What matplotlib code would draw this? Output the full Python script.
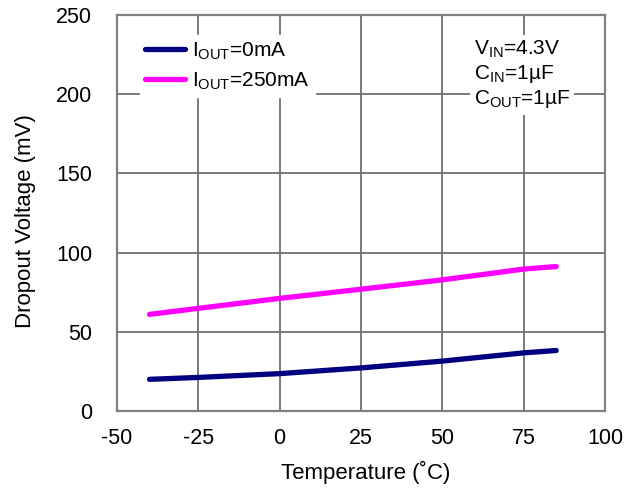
import matplotlib
matplotlib.use("Agg")
import matplotlib.pyplot as plt

plt.rcParams['font.family'] = ['Liberation Sans', 'DejaVu Sans']
plt.rcParams['mathtext.fontset'] = 'custom'
plt.rcParams['mathtext.rm'] = 'Liberation Sans'
plt.rcParams['axes.unicode_minus'] = False

temp = [-40, -25, 0, 25, 50, 75, 85]
v_0mA = [20, 21.2, 23.6, 27.2, 31.5, 36.7, 38.2]
v_250mA = [61, 64.8, 71.1, 76.9, 82.8, 89.6, 91.2]
xticks = [-50, -25, 0, 25, 50, 75, 100]
yticks = [0, 50, 100, 150, 200, 250]

fig = plt.figure(figsize=(6.38, 4.9), dpi=100)
ax = fig.add_axes([117/638, 79/490, 488/638, 396/490])

ax.plot(temp, v_0mA, color='#000080', lw=3.8, solid_capstyle='round',
        label=r'$\mathregular{I_{OUT}}$=0mA')
ax.plot(temp, v_250mA, color='#ff00ff', lw=3.8, solid_capstyle='round',
        label=r'$\mathregular{I_{OUT}}$=250mA')

ax.set_xlim(-50, 100)
ax.set_ylim(0, 250)
ax.set_xticks(xticks)
ax.set_yticks(yticks)
ax.grid(True, color='#707070', lw=1.3)
ax.set_axisbelow(True)
for s in ax.spines.values():
    s.set_color('#808080')
    s.set_linewidth(1.6)
ax.tick_params(length=0, labelsize=15.5)
ax.tick_params(axis='x', pad=12)
ax.tick_params(axis='y', pad=18)

ax.set_xlabel('Temperature (˚C)', fontsize=16)
ax.xaxis.set_label_coords(0.51, (411 - 472) / 396)
ax.xaxis.label.set_va('center')
ax.set_ylabel('Dropout Voltage (mV)', fontsize=16)
ax.yaxis.set_label_coords((25 - 117) / 488, (411 - 221) / 396)
ax.yaxis.label.set_va('center')

leg = ax.legend(loc='upper left', bbox_to_anchor=(0.025, 0.975), frameon=True,
                fontsize=15, handlelength=1.95, handletextpad=0.3,
                labelspacing=0.42, borderpad=0.25, fancybox=False,
                edgecolor='white', framealpha=1)

ax.text(0.731, 0.94, r'$\mathregular{V_{IN}}$=4.3V' + '\n' +
        r'$\mathregular{C_{IN}}$=1µF' + '\n' + r'$\mathregular{C_{OUT}}$=1µF',
        transform=ax.transAxes, fontsize=15, va='top', ha='left',
        linespacing=1.2,
        bbox=dict(facecolor='white', edgecolor='none', pad=3))

fig.savefig('out.png', dpi=100)
